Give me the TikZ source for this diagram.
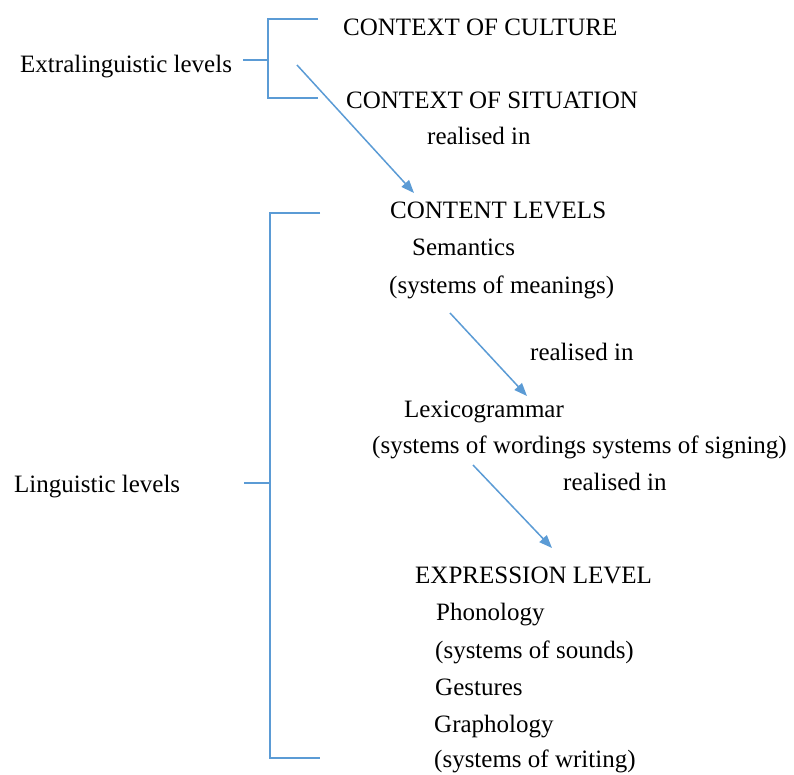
\documentclass[tikz,border=0pt]{standalone}
\usepackage{fontspec}
\setmainfont{Liberation Serif}
\usetikzlibrary{arrows.meta}
\definecolor{linkblue}{RGB}{91,155,213}

\begin{document}
\begin{tikzpicture}[x=1pt, y=-1pt,
    lbl/.style={anchor=base west, inner sep=0pt, font=\fontsize{25}{30}\selectfont},
    brace/.style={linkblue, line width=1.5pt},
    realise/.style={linkblue, line width=1.5pt, -{Triangle[length=13pt,width=10pt]}}]
  \useasboundingbox (0,0) rectangle (794,774);

  % Extralinguistic levels
  \node[lbl] (extra) at (20,72) {Extralinguistic levels};
  \node[lbl] (culture) at (343,35) {CONTEXT OF CULTURE};
  \node[lbl] (situation) at (346,108) {CONTEXT OF SITUATION};
  \node[lbl] (realA) at (427,144) {realised in};
  \draw[brace] (318,19) -- (268,19) -- (268,98) -- (318,98);
  \draw[brace] (243,60) -- (268,60);

  % Content levels
  \node[lbl] (content) at (390,218) {CONTENT LEVELS};
  \node[lbl] (semantics) at (412,255) {Semantics};
  \node[lbl] (meanings) at (389,293) {(systems of meanings)};
  \node[lbl] (realB) at (530,360) {realised in};
  \node[lbl] (lexgram) at (404,417) {Lexicogrammar};
  \node[lbl] (wordings) at (372,453) {(systems of wordings systems of signing)};
  \node[lbl] (realC) at (563,490) {realised in};

  % Expression level
  \node[lbl] (expression) at (415,583) {EXPRESSION LEVEL};
  \node[lbl] (phonology) at (436,620) {Phonology};
  \node[lbl] (sounds) at (435,658) {(systems of sounds)};
  \node[lbl] (gestures) at (435,695) {Gestures};
  \node[lbl] (graphology) at (434,732) {Graphology};
  \node[lbl] (writing) at (434,767) {(systems of writing)};

  % Linguistic levels
  \node[lbl] (ling) at (14,492) {Linguistic levels};
  \draw[brace] (320,213) -- (270,213) -- (270,758) -- (320,758);
  \draw[brace] (244,483) -- (270,483);

  % realisation arrows
  \coordinate (fromA) at (297,65);
  \coordinate (toA) at (414,193);
  \coordinate (fromB) at (450,313);
  \coordinate (toB) at (527,396);
  \coordinate (fromC) at (473,465);
  \coordinate (toC) at (552,548);
  \draw[realise] (fromA) -- (toA);
  \draw[realise] (fromB) -- (toB);
  \draw[realise] (fromC) -- (toC);
\end{tikzpicture}
\end{document}
